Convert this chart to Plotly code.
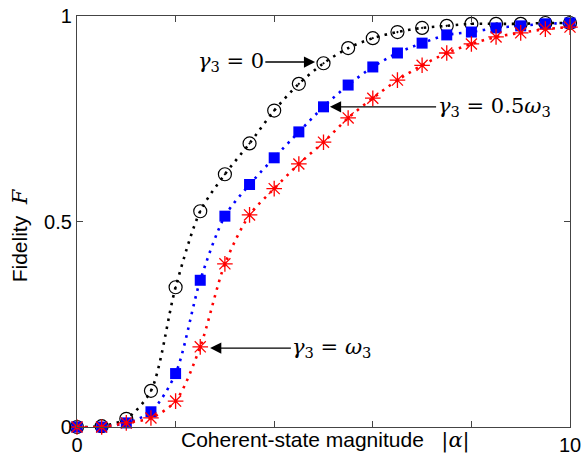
import plotly.graph_objects as go

alpha = [0, 0.5, 1, 1.5, 2, 2.5, 3, 3.5, 4, 4.5, 5, 5.5, 6, 6.5, 7, 7.5, 8, 8.5, 9, 9.5, 10]
F_g0 = [0.0, 0.002, 0.02, 0.088, 0.34, 0.525, 0.615, 0.69, 0.77, 0.835, 0.885, 0.922, 0.946, 0.961, 0.971, 0.976, 0.981, 0.981, 0.981, 0.983, 0.983]
F_g05 = [0.0, 0.0, 0.01, 0.037, 0.13, 0.357, 0.513, 0.59, 0.655, 0.718, 0.779, 0.832, 0.876, 0.91, 0.934, 0.954, 0.961, 0.971, 0.976, 0.981, 0.983]
F_g1 = [0.0, 0.0, 0.01, 0.022, 0.063, 0.195, 0.397, 0.516, 0.58, 0.64, 0.693, 0.752, 0.80, 0.844, 0.88, 0.91, 0.932, 0.949, 0.959, 0.968, 0.973]

xticks = [0, 10]
xminor = [2, 4, 6, 8]
yticks = [0, 0.5, 1]
yticktext = ["0", "0.5", "1"]

SERIF = "DejaVu Serif"
SANS = "Liberation Sans"

fig = go.Figure()

series = [
    (F_g0, "black", dict(symbol="circle-open-dot", size=13, color="black", line=dict(color="black", width=1.2))),
    (F_g05, "blue", dict(symbol="square", size=11, color="blue", line=dict(color="blue", width=0))),
    (F_g1, "red", dict(symbol="asterisk-open", size=13, color="red", line=dict(color="red", width=1.3))),
]
for ys, col, mk in series:
    fig.add_trace(go.Scatter(x=alpha, y=ys, mode="lines", line=dict(color=col, width=2.6, dash="2.5px,5.5px", shape="spline", smoothing=0.8),
                             showlegend=False, cliponaxis=False, hoverinfo="skip"))
    fig.add_trace(go.Scatter(x=alpha, y=ys, mode="markers", marker=mk, showlegend=False, cliponaxis=False))

axis_common = dict(showline=True, linecolor="#444", linewidth=1.2, mirror="ticks", ticks="inside", ticklen=6,
                   tickcolor="#444", showgrid=False, zeroline=False, automargin=False,
                   tickfont=dict(family=SANS, size=20, color="black"))
fig.update_xaxes(range=[0, 10], tickvals=xticks, ticktext=["0", "10"],
                 minor=dict(tickvals=xminor, ticks="inside", ticklen=6, tickcolor="#444", showgrid=False), **axis_common)
fig.update_yaxes(range=[0, 1], tickvals=yticks, ticktext=yticktext, **axis_common)

ann = []
# axis titles
ann.append(dict(xref="paper", yref="paper", x=0.505, y=-0.032, xanchor="center", yanchor="middle", showarrow=False,
                text="Coherent-state magnitude &nbsp;&nbsp;<span style='font-family:" + SERIF + "'>|<i>α</i>|</span>",
                font=dict(family=SANS, size=21, color="black")))
ann.append(dict(xref="paper", yref="paper", x=-0.115, y=0.467, xanchor="center", yanchor="middle", showarrow=False,
                textangle=-90, text="Fidelity &nbsp;<span style='font-family:" + SERIF + "'><i>F</i></span>",
                font=dict(family=SANS, size=21, color="black")))

labels = [
    ("<i>γ</i><sub>3</sub> = 0", 3.12, 0.888, 4.83),
    ("<i>γ</i><sub>3</sub> = 0.5<i>ω</i><sub>3</sub>", 8.46, 0.779, 5.13),
    ("<i>γ</i><sub>3</sub> = <i>ω</i><sub>3</sub>", 5.17, 0.192, 2.70),
]
for txt, tx, ty, head in labels:
    ann.append(dict(x=head, y=ty, ax=tx, ay=ty, xref="x", yref="y", axref="x", ayref="y", text=txt, showarrow=True,
                    arrowhead=2, arrowsize=1.6, arrowwidth=1.4, arrowcolor="black", standoff=0, borderpad=1,
                    font=dict(family=SERIF, size=21, color="black")))

fig.update_layout(width=584, height=459, margin=dict(l=77, r=14, t=16, b=32), plot_bgcolor="white", paper_bgcolor="white",
                  annotations=ann)

fig.write_html("out.html")
